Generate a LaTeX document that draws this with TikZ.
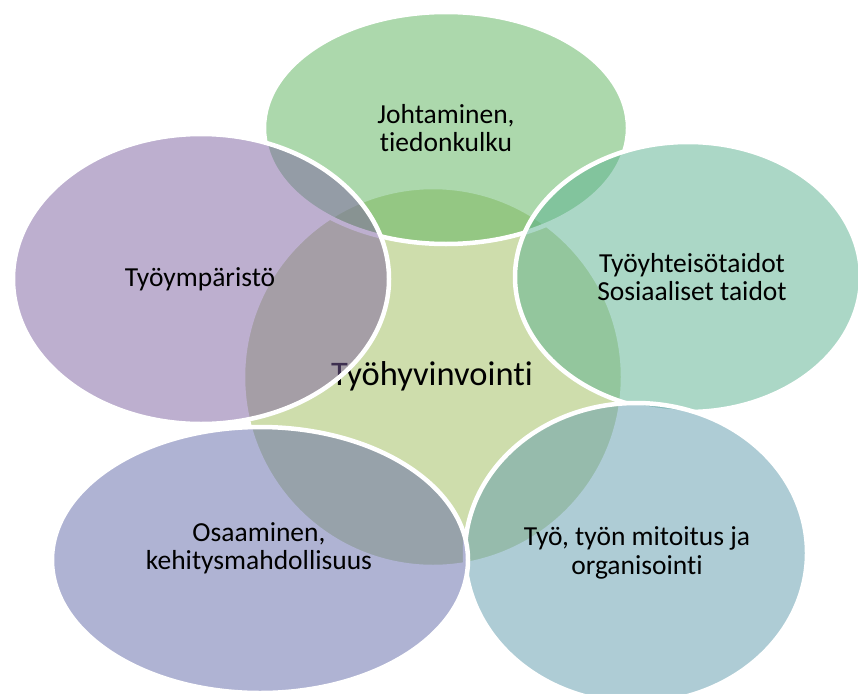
\documentclass[tikz,border=0pt]{standalone}
\usepackage{fontspec}
\setmainfont{Carlito}[Ligatures={NoCommon}]
\usetikzlibrary{shapes.geometric}
\definecolor{cCenter}{RGB}{206,221,172}
\definecolor{cLead}{RGB}{91,179,91}
\definecolor{cSocial}{RGB}{89,177,143}
\definecolor{cWork}{RGB}{95,155,173}
\definecolor{cSkill}{RGB}{97,105,169}
\definecolor{cEnv}{RGB}{125,97,161}
\begin{document}
\begin{tikzpicture}[x=1pt,y=-1pt,
  petal/.style={ellipse, draw=white, line width=4.5pt, fill opacity=0.5,
    draw opacity=1, inner sep=0pt},
  ringtext/.style={font=\fontsize{27.5}{28.5}\selectfont, align=center,
    text=black, inner sep=0pt},
]
\useasboundingbox (0,0) rectangle (858,693);
\fill[white] (0,0) rectangle (858,693);
\clip (0,0) rectangle (858,693);

% central circle and its title
\node[circle, fill=cCenter, draw=white, line width=4.5pt, minimum size=380pt,
  inner sep=0pt] (hub) at (433,377) {};
\node[font=\fontsize{34.5}{40}\selectfont, anchor=base, inner sep=0pt] (hubtext)
  at (432,385) {Työhyvinvointi};

% surrounding ellipses, clockwise from the top
\node[petal, fill=cLead, minimum width=364pt, minimum height=232pt]
  (lead) at (446,128) {};
\node[ringtext] (leadtext) at (446,128) {Johtaminen,\\tiedonkulku};

\node[petal, fill=cSocial, minimum width=346pt, minimum height=270pt]
  (social) at (688,277) {};
\node[ringtext] (socialtext) at (692,277) {Työyhteisötaidot\\Sosiaaliset taidot};

\node[petal, fill=cWork, minimum width=342pt, minimum height=300pt]
  (work) at (636,553) {};
\node[ringtext] (worktext) at (637,553) {Työ, työn mitoitus ja\\organisointi};

\node[petal, fill=cSkill, minimum width=416pt, minimum height=266pt]
  (skill) at (260,560) {};
\node[ringtext] (skilltext) at (259,548) {Osaaminen,\\kehitysmahdollisuus};

\node[petal, fill=cEnv, minimum width=376pt, minimum height=290pt]
  (env) at (201,279) {};
\node[ringtext] (envtext) at (200,279) {Työympäristö};
\end{tikzpicture}
\end{document}
